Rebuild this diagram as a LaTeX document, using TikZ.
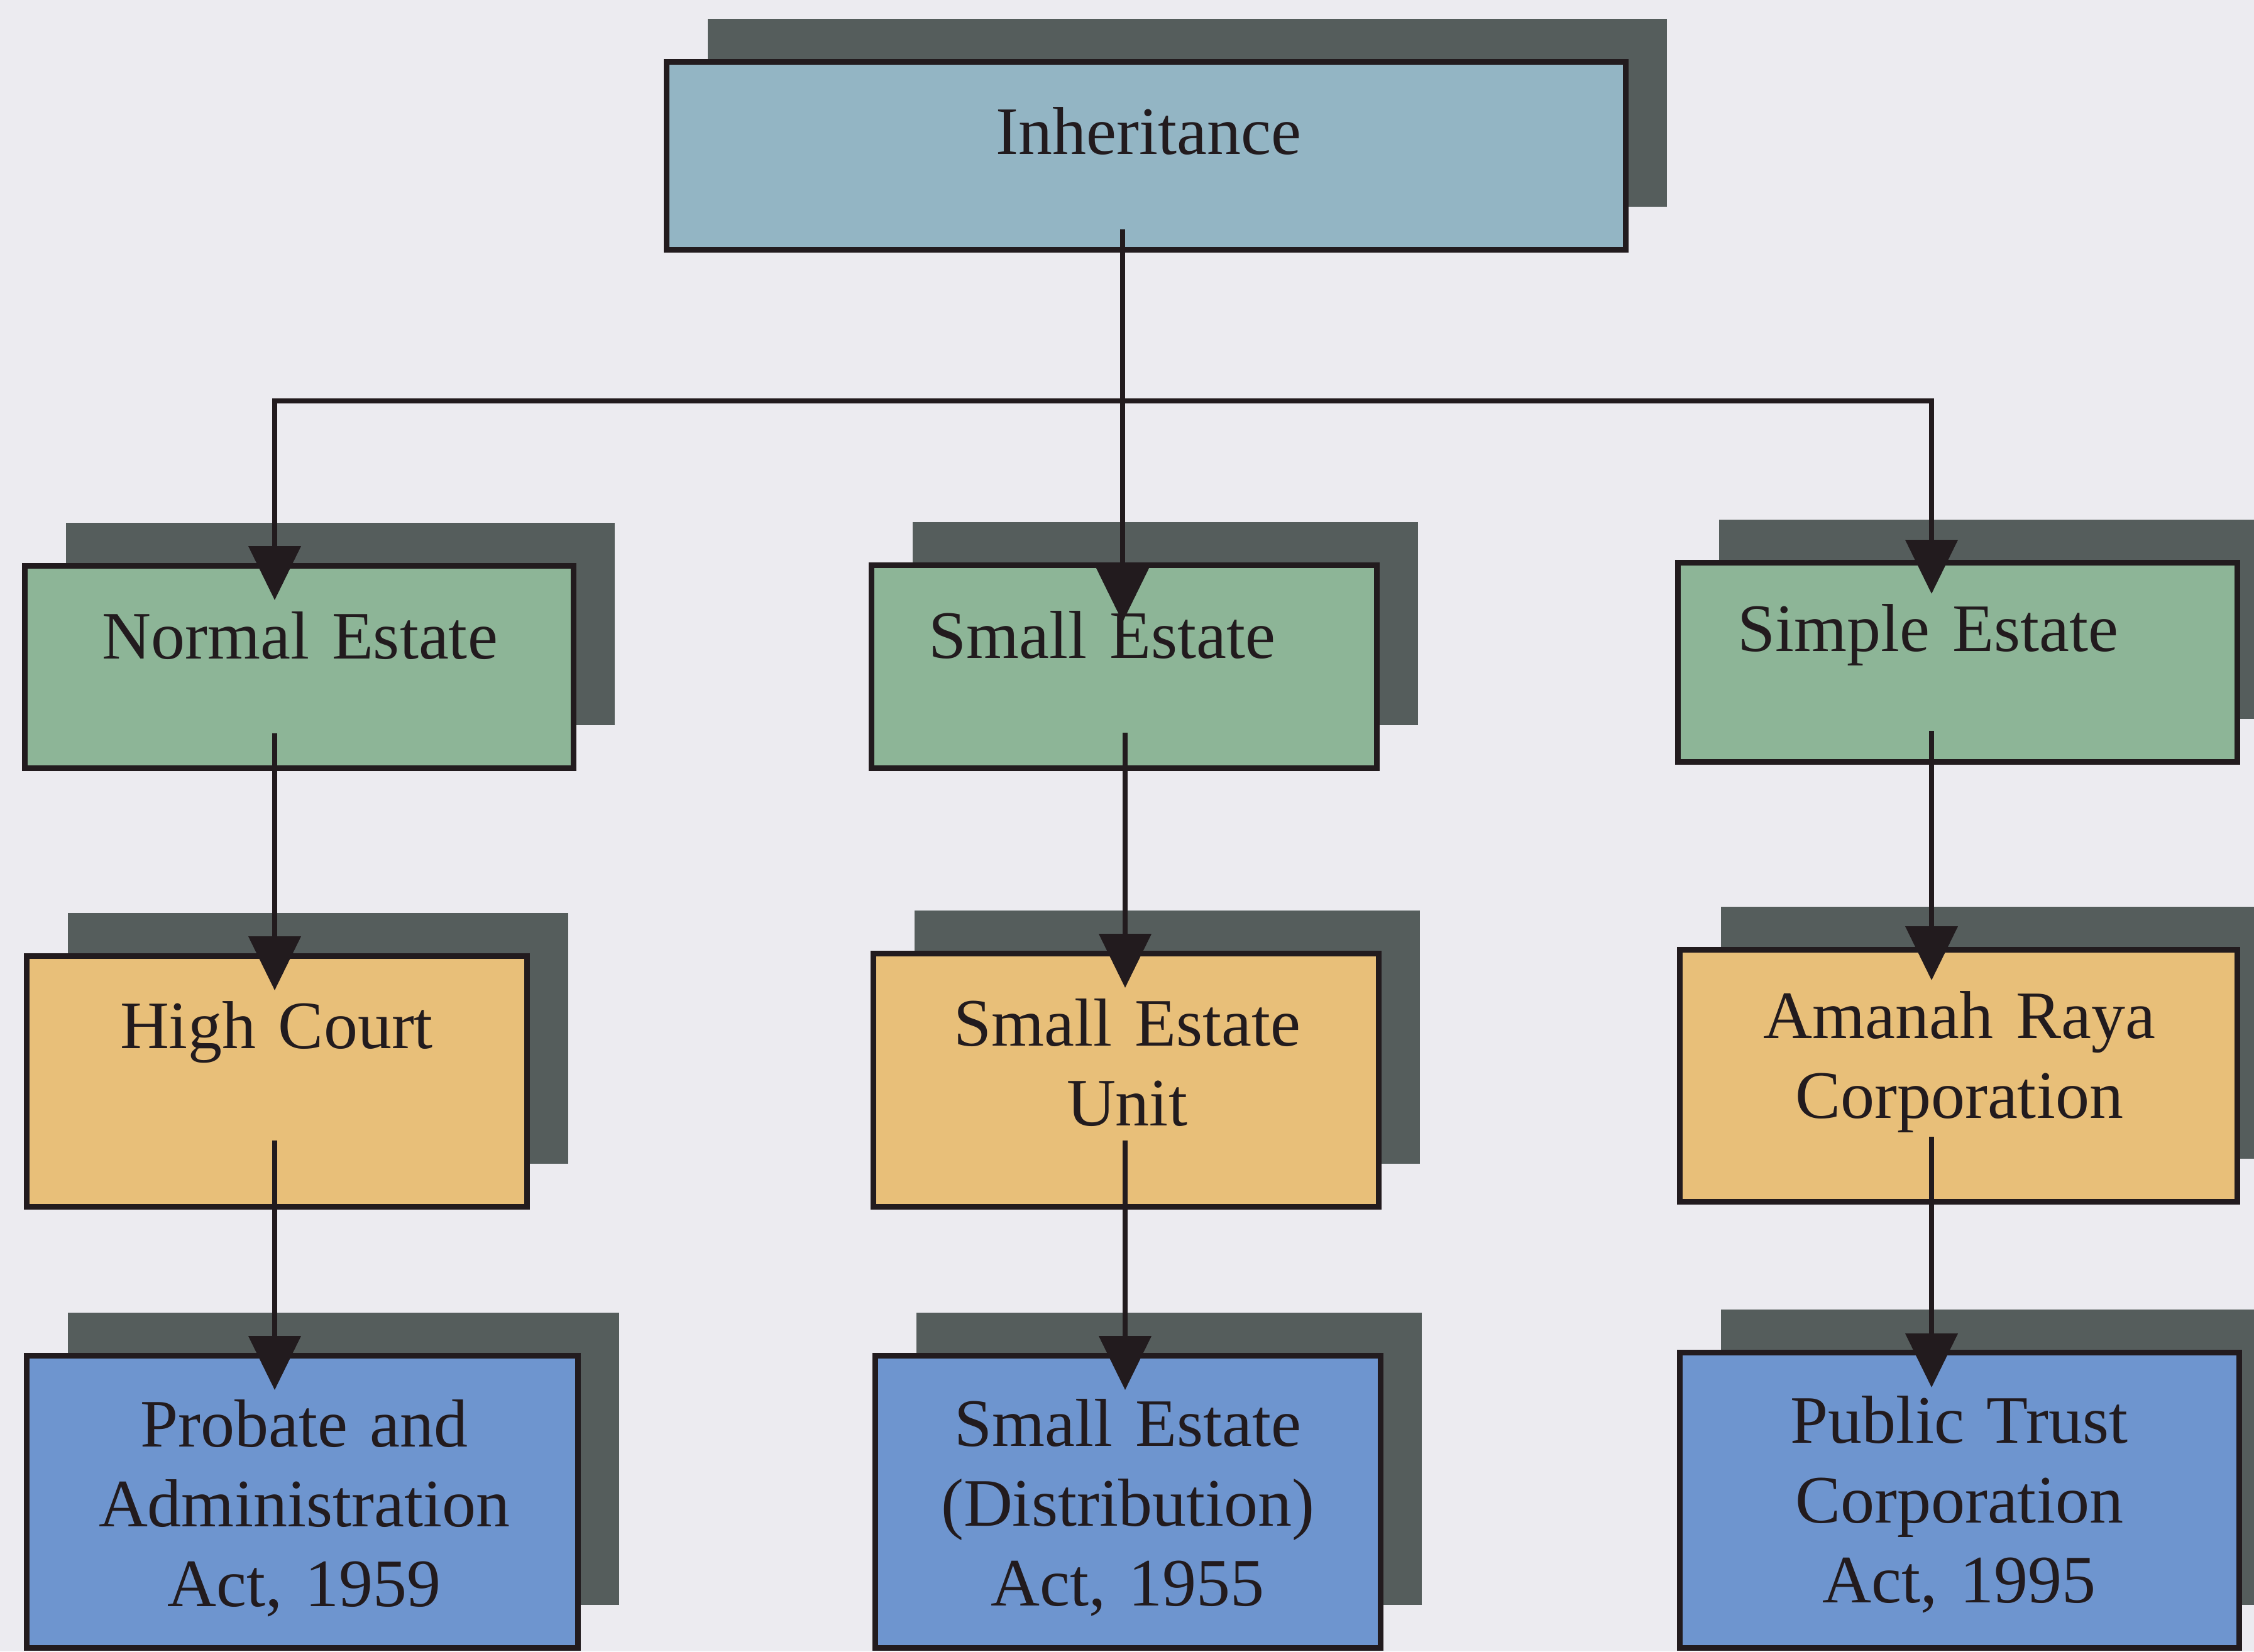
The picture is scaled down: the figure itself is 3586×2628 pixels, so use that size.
\documentclass[tikz,border=0pt]{standalone}
\usepackage{fontspec}
\setmainfont{Liberation Serif}
\usetikzlibrary{arrows.meta,calc,fit,shadows}
\definecolor{bgc}{HTML}{ECEBF0}
\definecolor{inhc}{HTML}{93B5C4}
\definecolor{greenc}{HTML}{8DB597}
\definecolor{orangec}{HTML}{E8BF79}
\definecolor{bluec}{HTML}{6E95CF}
\definecolor{shadc}{HTML}{555D5C}
\definecolor{inkc}{HTML}{221B1E}
\begin{document}
\begin{tikzpicture}[x=0.25pt,y=-0.25pt,
  box/.style={draw=inkc, line width=2.25pt, inner sep=0pt, outer sep=0pt,
    drop shadow={shadow xshift=16.5pt, shadow yshift=17pt, fill=shadc, opacity=1}},
  txt/.style={text=inkc, font=\fontsize{27}{31.75}\selectfont, align=center,
    text width=200pt, inner sep=0pt, anchor=base},
  conn/.style={draw=inkc, line width=2pt},
  arr/.style={conn, -{Triangle[length=21.5pt,width=20.5pt]}},
  arrtwo/.style={conn, line join=miter, {Triangle[length=21.5pt,width=20.5pt]}-{Triangle[length=21.5pt,width=20.5pt]}}]

\fill[bgc] (0,0) rectangle (3586,2628);
\useasboundingbox (0,0) rectangle (3586,2628);

% row 1
\node[box, fill=inhc, fit={(1060,98) (2586,397)}] (inh) {};
\node[txt] (inh-t) at (1827,245) {Inheritance};

% row 2
\node[box, fill=greenc, fit={(39,900) (912,1222)}] (ne) {};
\node[txt] (ne-t) at (477,1048) {Normal Estate};
\node[box, fill=greenc, fit={(1386,899) (2190,1222)}] (se) {};
\node[txt] (se-t) at (1753,1047) {Small Estate};
\node[box, fill=greenc, fit={(2669,895) (3559,1212)}] (sim) {};
\node[txt] (sim-t) at (3067,1036) {Simple Estate};

% row 3
\node[box, fill=orangec, fit={(42,1521) (838,1920)}] (hc) {};
\node[txt] (hc-t) at (440,1668) {High Court};
\node[box, fill=orangec, fit={(1389,1517) (2193,1920)}] (seu) {};
\node[txt] (seu-t) at (1793,1664) {Small Estate\\Unit};
\node[box, fill=orangec, fit={(2672,1511) (3559,1912)}] (ar) {};
\node[txt] (ar-t) at (3117,1652) {Amanah Raya\\Corporation};

% row 4
\node[box, fill=bluec, fit={(42,2157) (919,2622)}] (pa) {};
\node[txt] (pa-t) at (484,2302) {Probate and\\Administration\\Act, 1959};
\node[box, fill=bluec, fit={(1392,2157) (2196,2622)}] (sed) {};
\node[txt] (sed-t) at (1794,2301) {Small Estate\\(Distribution)\\Act, 1955};
\node[box, fill=bluec, fit={(2672,2152) (3562,2622)}] (pt) {};
\node[txt] (pt-t) at (3117,2296) {Public Trust\\Corporation\\Act, 1995};

% connectors
\coordinate (jl) at (437,638);
\coordinate (jm) at (1786,638);
\coordinate (jr) at (3073,638);
\coordinate (cm) at (1790,0);

\draw[arrtwo] ($(ne.north -| jl)+(0,55)$) -- (jl) -- (jr) -- ($(sim.north -| jr)+(0,50)$);
\draw[arr] ($(inh.south -| jm)+(0,-32)$) -- ($(se.north -| jm)+(0,91)$);

\draw[arr] ($(ne.south -| jl)+(0,-55)$) -- ($(hc.north -| jl)+(0,55)$);
\draw[arr] ($(hc.south -| jl)+(0,-105)$) -- ($(pa.north -| jl)+(0,55)$);
\draw[arr] ($(se.south -| cm)+(0,-56)$) -- ($(seu.north -| cm)+(0,55)$);
\draw[arr] ($(seu.south -| cm)+(0,-105)$) -- ($(sed.north -| cm)+(0,55)$);
\draw[arr] ($(sim.south -| jr)+(0,-49)$) -- ($(ar.north -| jr)+(0,49)$);
\draw[arr] ($(ar.south -| jr)+(0,-103)$) -- ($(pt.north -| jr)+(0,56)$);
\end{tikzpicture}
\end{document}
